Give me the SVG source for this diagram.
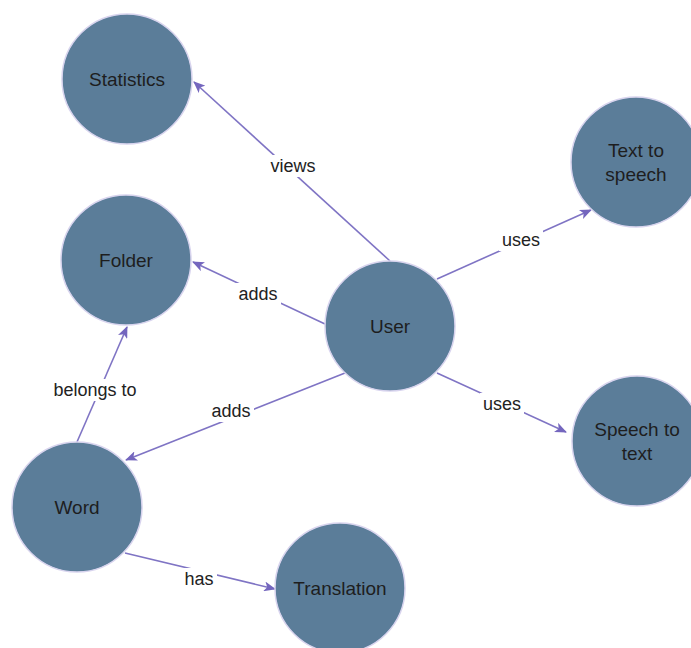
<svg xmlns="http://www.w3.org/2000/svg" width="691" height="648" viewBox="0 0 691 648">
<style>
.node circle{fill:#5b7d99;stroke:#d8d4ee;stroke-width:1.5}
.node text{font-family:"Liberation Sans",Arial,sans-serif;font-size:19px;fill:#1e1e1e;text-anchor:middle;dominant-baseline:central}
.edge line{stroke:#7f74c4;stroke-width:1.6}
.lbl rect{fill:#fff}
.lbl text{font-family:"Liberation Sans",Arial,sans-serif;font-size:18px;fill:#222;text-anchor:middle;dominant-baseline:central}
</style>
<defs>
<marker id="arr" viewBox="0 0 12 10" refX="11" refY="5" markerWidth="12" markerHeight="10" markerUnits="userSpaceOnUse" orient="auto">
<path d="M0,0 L12,5 L0,10 L3,5 Z" fill="#7466be"/>
</marker>
</defs>
<rect width="691" height="648" fill="#fff"/>
<g id="connectors">
<g class="edge"><line x1="390" y1="261" x2="194" y2="82" marker-end="url(#arr)"/></g>
<g class="edge"><line x1="437" y1="279" x2="591" y2="210" marker-end="url(#arr)"/></g>
<g class="edge"><line x1="325" y1="324" x2="193" y2="262" marker-end="url(#arr)"/></g>
<g class="edge"><line x1="437" y1="373" x2="566" y2="432" marker-end="url(#arr)"/></g>
<g class="edge"><line x1="345" y1="373" x2="126" y2="460" marker-end="url(#arr)"/></g>
<g class="edge"><line x1="77" y1="442" x2="127" y2="327" marker-end="url(#arr)"/></g>
<g class="edge"><line x1="125" y1="553" x2="275" y2="589" marker-end="url(#arr)"/></g>
<g class="lbl"><rect x="268" y="155" width="50" height="22"/><text x="293" y="166">views</text></g>
<g class="lbl"><rect x="499" y="229" width="44" height="22"/><text x="521" y="240">uses</text></g>
<g class="lbl"><rect x="235" y="283" width="46" height="22"/><text x="258" y="294">adds</text></g>
<g class="lbl"><rect x="480" y="393" width="44" height="22"/><text x="502" y="404">uses</text></g>
<g class="lbl"><rect x="208" y="400" width="46" height="22"/><text x="231" y="411">adds</text></g>
<g class="lbl"><rect x="51" y="379" width="88" height="22"/><text x="95" y="390">belongs to</text></g>
<g class="lbl"><rect x="181" y="568" width="36" height="22"/><text x="199" y="579">has</text></g>
</g>
<g id="statistics" class="node"><circle cx="127" cy="79" r="65"/><text x="127" y="79">Statistics</text></g>
<g id="text-to-speech" class="node"><circle cx="636" cy="162" r="65"/><text x="636" y="150">Text to</text><text x="636" y="174">speech</text></g>
<g id="folder" class="node"><circle cx="126" cy="260" r="65"/><text x="126" y="260">Folder</text></g>
<g id="user" class="node"><circle cx="390" cy="326" r="65"/><text x="390" y="326">User</text></g>
<g id="speech-to-text" class="node"><circle cx="637" cy="441" r="65"/><text x="637" y="429">Speech to</text><text x="637" y="453">text</text></g>
<g id="word" class="node"><circle cx="77" cy="507" r="65"/><text x="77" y="507">Word</text></g>
<g id="translation" class="node"><circle cx="340" cy="588" r="65"/><text x="340" y="588">Translation</text></g>
</svg>
